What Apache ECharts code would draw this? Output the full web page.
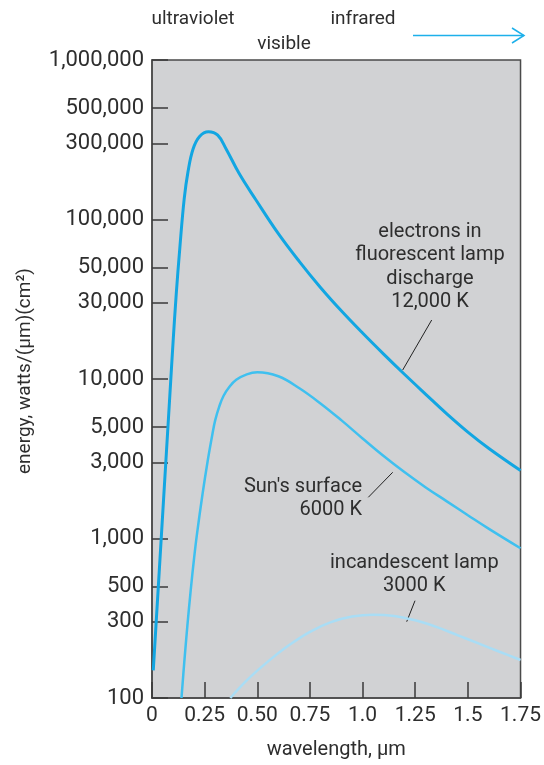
<!DOCTYPE html>
<html><head><meta charset="utf-8">
<script src="https://cdn.jsdelivr.net/npm/echarts@6/dist/echarts.min.js"></script>
<style>html,body{margin:0;padding:0;background:#fff}#c{width:544px;height:765px}</style>
</head><body><div id="c"></div>
<script>
// wavelength (µm) and energy values
const wl12000 = [0.006,0.025,0.045,0.065,0.085,0.10,0.115,0.132,0.153,0.171,0.195,0.226,0.268,0.312,0.352,0.414,0.493,0.6,0.7,0.8,0.9,1.0,1.1,1.2,1.3,1.4,1.5,1.6,1.75];
const en12000 = [149,388,1065,2920,8000,17000,33900,66000,135000,199600,277000,332000,355000,338000,277000,194000,133000,81500,54450,37500,26670,19410,14320,10670,8020,6050,4650,3670,2670];
const wl6000 = [0.140,0.153,0.168,0.184,0.200,0.214,0.240,0.264,0.287,0.30,0.32,0.34,0.367,0.40,0.45,0.5,0.6,0.7,0.8,0.9,1.0,1.1,1.2,1.3,1.4,1.5,1.6,1.75];
const en6000 = [100,166,284,476,755,1076,1900,3040,4520,5500,6760,7850,8910,9890,10700,11020,10400,8750,7030,5500,4240,3290,2600,2090,1710,1400,1150,869];
const wl3000 = [0.372,0.45,0.55,0.65,0.75,0.85,0.95,1.05,1.15,1.25,1.35,1.45,1.55,1.65,1.75];
const en3000 = [100,129,169,214,260,299,324,333,327,307,279,248,220,195,173];
const xTickLabels = ['0','0.25','0.50','0.75','1.0','1.25','1.5','1.75'];
const yTickValues = [100,300,500,1000,3000,5000,10000,30000,50000,100000,300000,500000,1000000];
const yTickLabels = ['100','300','500','1,000','3,000','5,000','10,000','30,000','50,000','100,000','300,000','500,000','1,000,000'];

const FONT = 'Roboto';
const TXT = '#2e2e2e';
const zip = (a,b)=>a.map((v,i)=>[v,b[i]]);
const chart = echarts.init(document.getElementById('c'), null, {renderer:'canvas'});
chart.setOption({
  animation:false,
  textStyle:{fontFamily:FONT},
  grid:{left:152,right:20.5,top:60,bottom:59,show:true,backgroundColor:'#d1d2d4',borderColor:'#4a4a4a',borderWidth:1.5},
  xAxis:{type:'value',min:0,max:1.75,interval:0.25,
    name:'wavelength, µm',nameLocation:'middle',nameGap:42,
    nameTextStyle:{fontSize:20,color:TXT,fontFamily:FONT},
    axisLine:{show:true,lineStyle:{color:'#4a4a4a',width:1.5}},
    axisTick:{show:true,inside:true,length:16,lineStyle:{color:'#3a3a3a',width:1.5}},
    axisLabel:{fontSize:21,color:TXT,margin:7,fontFamily:FONT,
      formatter:v=>xTickLabels[Math.round(v/0.25)]},
    splitLine:{show:false}},
  yAxis:{type:'log',logBase:10,min:100,max:1000000,
    axisLine:{show:true,lineStyle:{color:'#4a4a4a',width:1.5}},
    axisTick:{show:true,inside:true,length:16,customValues:yTickValues,lineStyle:{color:'#3a3a3a',width:1.5}},
    axisLabel:{fontSize:22,color:TXT,margin:8,fontFamily:FONT,customValues:yTickValues,
      formatter:v=>{const i=yTickValues.findIndex(t=>Math.abs(t-v)/t<1e-6);return i>=0?yTickLabels[i]:'';}},
    splitLine:{show:false},minorTick:{show:false}},
  series:[
    {type:'line',data:zip(wl12000,en12000),showSymbol:false,smooth:0.4,lineStyle:{color:'#12a6e2',width:3},z:5},
    {type:'line',data:zip(wl6000,en6000),showSymbol:false,smooth:0.4,lineStyle:{color:'#3fc0ef',width:2.5},z:4},
    {type:'line',data:zip(wl3000,en3000),showSymbol:false,smooth:0.4,lineStyle:{color:'#a9ddf5',width:2.5},z:3}
  ],
  graphic:[
    {type:'text',rotation:Math.PI/2,x:25,y:371,style:{text:'energy, watts/(µm)(cm²)',x:0,y:0,align:'center',verticalAlign:'middle',font:'19px '+FONT,fill:TXT}},
    {type:'text',style:{text:'ultraviolet',x:193,y:19,align:'center',verticalAlign:'middle',font:'19px '+FONT,fill:TXT}},
    {type:'text',style:{text:'visible',x:284,y:44,align:'center',verticalAlign:'middle',font:'19px '+FONT,fill:TXT}},
    {type:'text',style:{text:'infrared',x:363,y:19,align:'center',verticalAlign:'middle',font:'19px '+FONT,fill:TXT}},
    {type:'line',shape:{x1:413,y1:35.5,x2:524,y2:35.5},style:{stroke:'#1db0ea',lineWidth:1.5}},
    {type:'polyline',shape:{points:[[512,28],[524,35.5],[512,43]]},style:{stroke:'#1db0ea',lineWidth:1.5,fill:null}},
    {type:'text',style:{text:'electrons in\nfluorescent lamp\ndischarge\n12,000 K',x:430,y:220,align:'center',verticalAlign:'top',font:'20px '+FONT,fill:TXT,lineHeight:23.5}},
    {type:'line',shape:{x1:431.7,y1:320,x2:402.7,y2:370},style:{stroke:'#222',lineWidth:1}},
    {type:'text',style:{text:"Sun's surface\n6000 K",x:362,y:475,align:'right',verticalAlign:'top',font:'20px '+FONT,fill:TXT,lineHeight:23.5}},
    {type:'line',shape:{x1:368.3,y1:497.3,x2:392.7,y2:472.3},style:{stroke:'#222',lineWidth:1}},
    {type:'text',style:{text:'incandescent lamp\n3000 K',x:414.3,y:552,align:'center',verticalAlign:'top',font:'20px '+FONT,fill:TXT,lineHeight:22.5}},
    {type:'line',shape:{x1:415,y1:600.7,x2:406.7,y2:621.7},style:{stroke:'#222',lineWidth:1}}
  ]
});
</script></body></html>
